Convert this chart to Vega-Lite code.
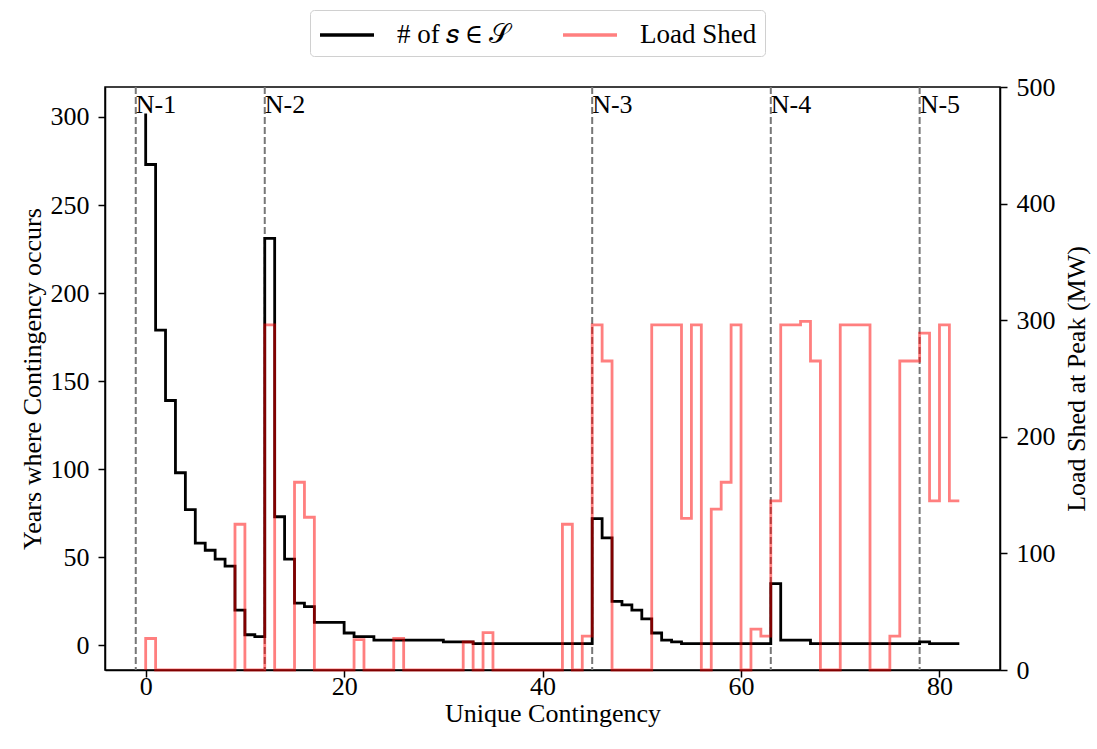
{
  "$schema": "https://vega.github.io/schema/vega-lite/v6.json",
  "width": 895,
  "height": 583,
  "autosize": "none",
  "padding": {"left": 105, "top": 87, "right": 97, "bottom": 79},
  "background": "white",
  "config": {
    "font": "Liberation Serif",
    "view": {"stroke": "black", "strokeWidth": 1.5},
    "axis": {
      "labelFont": "Liberation Serif",
      "labelFontSize": 26,
      "labelColor": "black",
      "titleFont": "Liberation Serif",
      "titleFontSize": 26,
      "titleFontWeight": "normal",
      "titleColor": "black",
      "tickColor": "black",
      "tickSize": 7,
      "tickWidth": 1.5,
      "domainColor": "black",
      "domainWidth": 1.5,
      "grid": false,
      "labelPadding": 4
    }
  },
  "datasets": {
    "main": [
      {"x": 0, "count": 302, "shed": 0},
      {"x": 1, "count": 273, "shed": 27},
      {"x": 2, "count": 179, "shed": 0},
      {"x": 3, "count": 139, "shed": 0},
      {"x": 4, "count": 98, "shed": 0},
      {"x": 5, "count": 77, "shed": 0},
      {"x": 6, "count": 58, "shed": 0},
      {"x": 7, "count": 54, "shed": 0},
      {"x": 8, "count": 49, "shed": 0},
      {"x": 9, "count": 45, "shed": 0},
      {"x": 10, "count": 20, "shed": 125},
      {"x": 11, "count": 6, "shed": 0},
      {"x": 12, "count": 5, "shed": 0},
      {"x": 13, "count": 231, "shed": 296},
      {"x": 14, "count": 73, "shed": 0},
      {"x": 15, "count": 49, "shed": 0},
      {"x": 16, "count": 24, "shed": 161},
      {"x": 17, "count": 22, "shed": 131},
      {"x": 18, "count": 13, "shed": 0},
      {"x": 19, "count": 13, "shed": 0},
      {"x": 20, "count": 13, "shed": 0},
      {"x": 21, "count": 7, "shed": 0},
      {"x": 22, "count": 5, "shed": 26},
      {"x": 23, "count": 5, "shed": 0},
      {"x": 24, "count": 3, "shed": 0},
      {"x": 25, "count": 3, "shed": 0},
      {"x": 26, "count": 3, "shed": 27},
      {"x": 27, "count": 3, "shed": 0},
      {"x": 28, "count": 3, "shed": 0},
      {"x": 29, "count": 3, "shed": 0},
      {"x": 30, "count": 3, "shed": 0},
      {"x": 31, "count": 2, "shed": 0},
      {"x": 32, "count": 2, "shed": 0},
      {"x": 33, "count": 2, "shed": 24},
      {"x": 34, "count": 1, "shed": 0},
      {"x": 35, "count": 1, "shed": 32},
      {"x": 36, "count": 1, "shed": 0},
      {"x": 37, "count": 1, "shed": 0},
      {"x": 38, "count": 1, "shed": 0},
      {"x": 39, "count": 1, "shed": 0},
      {"x": 40, "count": 1, "shed": 0},
      {"x": 41, "count": 1, "shed": 0},
      {"x": 42, "count": 1, "shed": 0},
      {"x": 43, "count": 1, "shed": 125},
      {"x": 44, "count": 1, "shed": 0},
      {"x": 45, "count": 1, "shed": 29},
      {"x": 46, "count": 72, "shed": 296},
      {"x": 47, "count": 61, "shed": 265},
      {"x": 48, "count": 25, "shed": 0},
      {"x": 49, "count": 23, "shed": 0},
      {"x": 50, "count": 20, "shed": 0},
      {"x": 51, "count": 15, "shed": 0},
      {"x": 52, "count": 7, "shed": 296},
      {"x": 53, "count": 3, "shed": 296},
      {"x": 54, "count": 2, "shed": 296},
      {"x": 55, "count": 1, "shed": 130},
      {"x": 56, "count": 1, "shed": 296},
      {"x": 57, "count": 1, "shed": 0},
      {"x": 58, "count": 1, "shed": 138},
      {"x": 59, "count": 1, "shed": 161},
      {"x": 60, "count": 1, "shed": 296},
      {"x": 61, "count": 1, "shed": 0},
      {"x": 62, "count": 1, "shed": 35},
      {"x": 63, "count": 1, "shed": 29},
      {"x": 64, "count": 35, "shed": 145},
      {"x": 65, "count": 3, "shed": 296},
      {"x": 66, "count": 3, "shed": 296},
      {"x": 67, "count": 3, "shed": 299},
      {"x": 68, "count": 1, "shed": 265},
      {"x": 69, "count": 1, "shed": 0},
      {"x": 70, "count": 1, "shed": 0},
      {"x": 71, "count": 1, "shed": 296},
      {"x": 72, "count": 1, "shed": 296},
      {"x": 73, "count": 1, "shed": 296},
      {"x": 74, "count": 1, "shed": 0},
      {"x": 75, "count": 1, "shed": 0},
      {"x": 76, "count": 1, "shed": 29},
      {"x": 77, "count": 1, "shed": 265},
      {"x": 78, "count": 1, "shed": 265},
      {"x": 79, "count": 2, "shed": 289},
      {"x": 80, "count": 1, "shed": 145},
      {"x": 81, "count": 1, "shed": 296},
      {"x": 82, "count": 1, "shed": 145}
    ],
    "vl": [
      {"x": -1, "label": "N-1"},
      {"x": 12, "label": "N-2"},
      {"x": 45, "label": "N-3"},
      {"x": 63, "label": "N-4"},
      {"x": 78, "label": "N-5"}
    ]
  },
  "layer": [
    {
      "layer": [
        {
          "data": {"name": "vl"},
          "mark": {"type": "rule", "color": "#777777", "strokeDash": [7, 3], "strokeWidth": 2},
          "encoding": {
            "x": {"field": "x", "type": "quantitative", "scale": {"domain": [-4.1, 86.1], "nice": false, "zero": false}}
          }
        },
        {
          "data": {"name": "main"},
          "mark": {"type": "line", "interpolate": "step-before", "strokeWidth": 2.8},
          "encoding": {
            "x": {
              "field": "x", "type": "quantitative",
              "scale": {"domain": [-4.1, 86.1], "nice": false, "zero": false},
              "axis": {"title": "Unique Contingency", "values": [0, 20, 40, 60, 80], "labelPadding": -4, "titlePadding": 1}
            },
            "y": {
              "field": "count", "type": "quantitative",
              "scale": {"domain": [-14, 317], "nice": false, "zero": false},
              "axis": {"title": "Years where Contingency occurs", "values": [0, 50, 100, 150, 200, 250, 300], "titlePadding": 5, "labelPadding": 9}
            },
            "color": {
              "datum": "# of 𝑠 ∈ 𝒮",
              "scale": {"domain": ["# of 𝑠 ∈ 𝒮", "Load Shed"], "range": ["black", "red"]},
              "legend": {
                "title": null,
                "orient": "none",
                "legendX": 205,
                "legendY": -77,
                "direction": "horizontal",
                "symbolType": "M-1,0H2.6",
                "symbolSize": 900,
                "symbolStrokeWidth": 3.5,
                "labelFont": "Liberation Serif",
                "labelFontSize": 27,
                "labelColor": "black",
                "labelOffset": 45,
                "columnPadding": 38,
                "padding": 8,
                "strokeColor": "#d0d0d0",
                "fillColor": "white",
                "cornerRadius": 4,
                "encode": {
                  "symbols": {"update": {"strokeOpacity": {"signal": "datum.value === 'Load Shed' ? 0.5 : 1"}}}
                }
              }
            }
          }
        },
        {
          "data": {"name": "vl"},
          "mark": {"type": "text", "align": "left", "baseline": "alphabetic", "fontSize": 26, "font": "Liberation Serif", "color": "black"},
          "encoding": {
            "x": {"field": "x", "type": "quantitative", "scale": {"domain": [-4.1, 86.1], "nice": false, "zero": false}},
            "y": {
              "datum": 302, "type": "quantitative",
              "axis": {"title": "Years where Contingency occurs", "values": [0, 50, 100, 150, 200, 250, 300], "titlePadding": 5, "labelPadding": 9}
            },
            "text": {"field": "label"}
          }
        }
      ]
    },
    {
      "data": {"name": "main"},
      "mark": {"type": "line", "interpolate": "step-before", "strokeWidth": 2.8, "strokeOpacity": 0.5},
      "encoding": {
        "x": {"field": "x", "type": "quantitative", "scale": {"domain": [-4.1, 86.1], "nice": false, "zero": false}},
        "y": {
          "field": "shed", "type": "quantitative",
          "scale": {"domain": [0, 500], "nice": false},
          "axis": {"orient": "right", "title": "Load Shed at Peak (MW)", "values": [0, 100, 200, 300, 400, 500], "titleAngle": 270, "titleBaseline": "top", "titlePadding": 8, "labelPadding": 9}
        },
        "color": {"datum": "Load Shed"}
      }
    }
  ],
  "resolve": {"scale": {"y": "independent"}}
}
